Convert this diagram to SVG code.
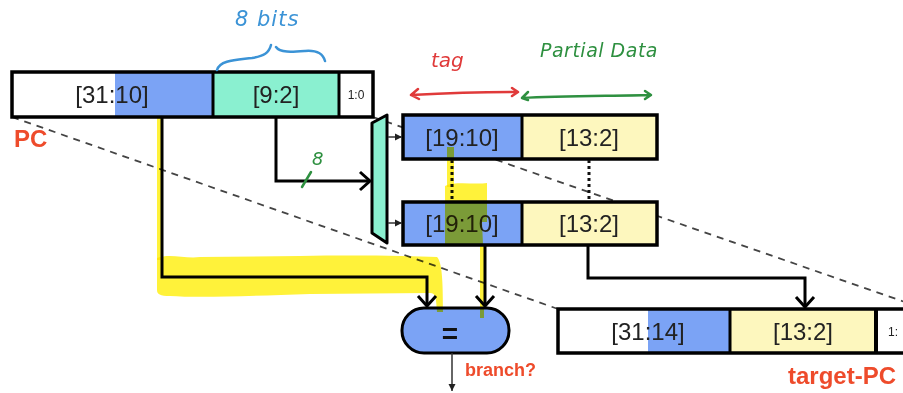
<svg xmlns="http://www.w3.org/2000/svg" width="903" height="393" viewBox="0 0 903 393">
<style>
.reg{stroke:#000;stroke-width:3.5;fill:none}
.sep{stroke:#000;stroke-width:3}
.lbl{font-family:"Liberation Sans",Arial,sans-serif;font-size:24px;fill:#222;text-anchor:middle}
.sm{font-family:"Liberation Sans",Arial,sans-serif;font-size:12px;fill:#222;text-anchor:middle}
.red{font-family:"Liberation Sans",Arial,sans-serif;font-weight:bold;fill:#EE4B2B}
.wire{stroke:#000;stroke-width:3;fill:none}
.thin{stroke:#333;stroke-width:1.5;fill:none}
.dash{stroke:#444;stroke-width:1.8;stroke-dasharray:7 6;fill:none}
.dot{stroke:#111;stroke-width:3;stroke-dasharray:3 3;fill:none}
.hl{fill:#FFF23A;mix-blend-mode:multiply}
.hand{font-family:"DejaVu Sans",sans-serif;font-style:italic}
.ink{fill:none;stroke-linecap:round;stroke-linejoin:round;stroke-width:2.5}
</style>
<defs>
<marker id="chev" markerUnits="userSpaceOnUse" markerWidth="24" markerHeight="24" refX="12" refY="12" orient="auto">
<path d="M2,3 L12,12 L2,21" fill="none" stroke="#000" stroke-width="3"/>
</marker>
<marker id="tri" markerUnits="userSpaceOnUse" markerWidth="10" markerHeight="10" refX="8" refY="5" orient="auto">
<path d="M1,1.5 L8,5 L1,8.5 Z" fill="#222"/>
</marker>
</defs>
<rect width="903" height="393" fill="#fff"/>

<!-- dashed guide lines -->
<line class="dash" x1="12" y1="117" x2="558" y2="309"/>
<line class="dash" x1="373" y1="117" x2="925" y2="309"/>

<!-- PC register -->
<g id="pc">
<rect x="12" y="72" width="103" height="45" fill="#fff"/>
<rect x="115" y="72" width="98" height="45" fill="#7BA3F5"/>
<rect x="213" y="72" width="126" height="45" fill="#8AF0D0"/>
<rect x="339" y="72" width="34" height="45" fill="#fff"/>
<rect class="reg" x="12" y="72" width="361" height="45"/>
<line class="sep" x1="213" y1="72" x2="213" y2="117"/>
<line class="sep" x1="339" y1="72" x2="339" y2="117"/>
<text class="lbl" x="112" y="103">[31:10]</text>
<text class="lbl" x="276" y="103">[9:2]</text>
<text class="sm" x="356" y="99">1:0</text>
<text class="red" x="14" y="147" font-size="24">PC</text>
</g>

<!-- mux -->
<g id="mux">
<polygon points="372,123 387,115 387,243 372,233" fill="#8AF0D0" stroke="#000" stroke-width="3" stroke-linejoin="round"/>
</g>

<!-- tag store row 1 -->
<g id="row1">
<rect x="403" y="115" width="119" height="44" fill="#7BA3F5"/>
<rect x="522" y="115" width="135" height="44" fill="#FDF7BE"/>
<rect class="reg" x="403" y="115" width="254" height="44"/>
<line class="sep" x1="522" y1="115" x2="522" y2="159"/>
<text class="lbl" x="462" y="146">[19:10]</text>
<text class="lbl" x="589" y="146">[13:2]</text>
</g>

<!-- tag store row 2 -->
<g id="row2">
<rect x="403" y="202" width="119" height="43" fill="#7BA3F5"/>
<rect x="522" y="202" width="135" height="43" fill="#FDF7BE"/>
<rect class="reg" x="403" y="202" width="254" height="43"/>
<line class="sep" x1="522" y1="202" x2="522" y2="245"/>
<text class="lbl" x="462" y="232">[19:10]</text>
<text class="lbl" x="589" y="232">[13:2]</text>
</g>

<!-- comparator -->
<g id="cmp">
<rect x="402" y="308" width="107" height="45" rx="22" fill="#7BA3F5" stroke="#000" stroke-width="3"/>
<text x="450" y="343" font-family="Liberation Sans,Arial,sans-serif" font-size="28" font-weight="bold" fill="#111" text-anchor="middle">=</text>
<text class="red" x="465" y="376" font-size="18">branch?</text>
</g>

<!-- target PC -->
<g id="target">
<rect x="558" y="309" width="90" height="44" fill="#fff"/>
<rect x="648" y="309" width="82" height="44" fill="#7BA3F5"/>
<rect x="730" y="309" width="145" height="44" fill="#FDF7BE"/>
<rect x="875" y="309" width="40" height="44" fill="#fff"/>
<rect class="reg" x="558" y="309" width="360" height="44"/>
<line class="sep" x1="730" y1="309" x2="730" y2="353"/>
<line x1="876" y1="309" x2="876" y2="353" stroke="#000" stroke-width="4"/>
<text class="lbl" x="648" y="340">[31:14]</text>
<text class="lbl" x="803" y="340">[13:2]</text>
<text class="sm" x="893" y="336">1:</text>
<text class="red" x="788" y="384" font-size="24">target-PC</text>
</g>

<!-- connectors -->
<g id="connectors">
<polyline class="wire" points="276,117 276,181 370,181" marker-end="url(#chev)"/>
<line x1="388" y1="137" x2="402" y2="137" class="thin" marker-end="url(#tri)"/>
<line x1="388" y1="223" x2="402" y2="223" class="thin" marker-end="url(#tri)"/>
<line class="dot" x1="452" y1="160" x2="452" y2="202"/>
<line class="dot" x1="589" y1="160" x2="589" y2="202"/>
<polyline class="wire" points="162,117 162,277 427,277 427,306" marker-end="url(#chev)"/>
<line class="wire" x1="485" y1="245" x2="485" y2="306" marker-end="url(#chev)"/>
<polyline class="wire" points="588,245 588,278 805,278 805,307" marker-end="url(#chev)"/>
<line class="thin" x1="452" y1="353" x2="452" y2="391" marker-end="url(#tri)"/>
</g>

<!-- highlighter -->
<g id="highlight">
<rect class="hl" x="157" y="118" width="4" height="142"/>
<path class="hl" d="M157,258 C170,253 185,259 200,257 L300,256 C360,255 410,256 437,257 C442,262 443,280 443,312 L437,312 C436,298 436,293 430,293 L310,294 C250,296 200,298 170,296 C160,296 157,294 157,290 Z"/>
<rect class="hl" x="447" y="147" width="7" height="40"/>
<path class="hl" d="M445,186 C455,181 475,185 487,183 L487,222 L482,222 L483,245 L445,245 Z"/>
<rect class="hl" x="480" y="245" width="4" height="73"/>
</g>

<!-- handwritten annotations -->
<g id="notes">
<text class="hand" x="235" y="26" font-size="21" fill="#3B93D6" letter-spacing="1">8   bits</text>
<path class="ink" stroke="#3B93D6" d="M217,70 C220,60 236,60 252,58 C264,56 269,53 271,45 M276,47 C280,53 292,52 305,51 C318,50 323,54 325,61"/>
<text class="hand" x="431" y="67" font-size="20" fill="#E03A3A">tag</text>
<path class="ink" stroke="#E03A3A" d="M418,89 L411,95 L419,99 M411,95 C450,93 490,92 517,92 M512,88 L518,92 L512,96"/>
<text class="hand" x="540" y="57" font-size="19" fill="#2E9040" letter-spacing="0.5">Partial    Data</text>
<path class="ink" stroke="#2E9040" d="M528,92 L522,98 L528,100 M522,98 C560,96 610,96 650,95 M645,91 L651,95 L645,99"/>
<text class="hand" x="312" y="165" font-size="18" fill="#2E9040">8</text>
<line class="ink" stroke="#2E9040" x1="302" y1="187" x2="311" y2="172"/>
</g>
</svg>
